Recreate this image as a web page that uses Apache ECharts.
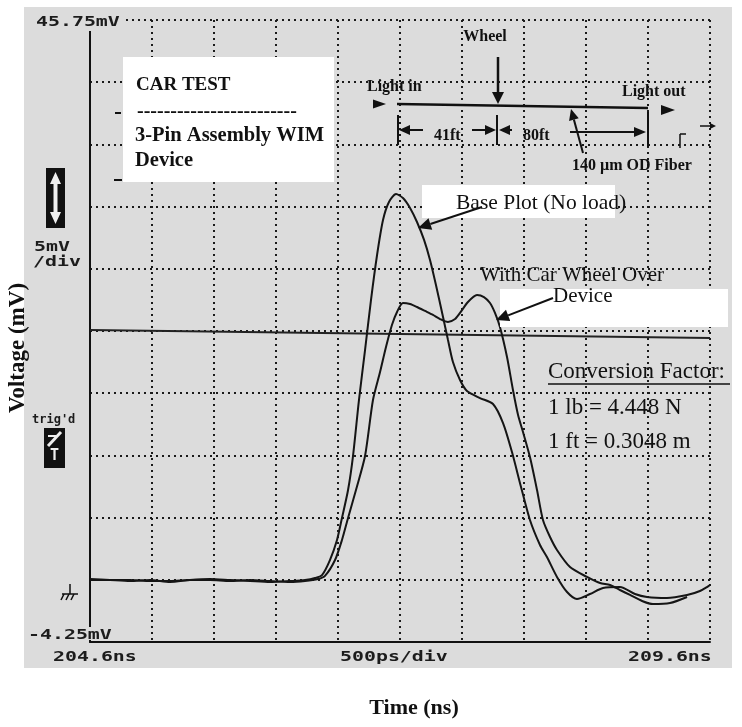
<!DOCTYPE html>
<html>
<head>
<meta charset="utf-8">
<title>Car test</title>
<script src="https://cdn.jsdelivr.net/npm/echarts@6/dist/echarts.min.js"></script>
<style>
body{margin:0;background:#fff;}
#scope{width:742px;height:727px;}
</style>
</head>
<body>
<div id="scope"></div>
<script>
// time (ns) and voltage (mV)
var baseTime = [204.600,204.761,204.923,205.084,205.245,205.406,205.568,205.729,205.890,206.052,206.213,206.334,206.415,206.471,206.535,206.592,206.632,206.681,206.721,206.769,206.818,206.866,206.915,206.963,207.011,207.068,207.124,207.181,207.237,207.294,207.342,207.390,207.447,207.487,207.527,207.584,207.640,207.745,207.850,207.931,208.003,208.076,208.148,208.229,208.285,208.366,208.447,208.527,208.632,208.737,208.874,208.995,209.092,209.253,209.415,209.519,209.600];
var baseVolt = [0.81,0.73,0.65,0.73,0.57,0.73,0.81,0.73,0.65,0.57,0.65,0.73,0.89,1.13,2.34,3.95,5.72,7.97,10.70,15.20,19.22,23.24,26.86,29.67,31.12,31.76,31.44,30.64,29.51,28.07,26.46,24.45,21.88,20.03,18.26,16.81,15.93,15.36,14.88,13.35,11.02,8.21,5.56,3.55,2.58,0.98,-0.23,-0.79,-0.39,0.09,0.17,-0.39,-0.63,-0.71,-0.47,-0.15,0.33];
var wheelTime = [204.600,204.761,204.923,205.084,205.245,205.406,205.568,205.729,205.890,206.052,206.213,206.334,206.439,206.495,206.576,206.632,206.681,206.745,206.818,206.882,206.939,206.987,207.035,207.076,207.124,207.181,207.237,207.302,207.366,207.423,207.487,207.544,207.584,207.648,207.721,207.777,207.826,207.866,207.906,207.963,208.011,208.052,208.092,208.148,208.205,208.253,208.310,208.366,208.471,208.608,208.713,208.794,208.874,208.955,209.052,209.140,209.277,209.415];
var wheelVolt = [0.73,0.73,0.73,0.65,0.65,0.73,0.73,0.65,0.73,0.65,0.57,0.65,0.81,1.06,2.34,3.95,5.72,7.97,10.70,15.20,17.45,19.46,21.23,22.28,23.00,22.92,22.68,22.36,22.04,21.71,21.47,21.71,22.20,23.08,23.64,23.48,23.00,22.20,21.07,18.66,16.01,14.00,12.63,10.62,7.97,5.56,4.19,3.15,1.78,0.98,0.49,0.33,-0.07,-0.47,-0.95,-1.20,-1.12,-0.63];
var cursorTime = [204.6, 209.6];
var cursorVolt = [20.83, 20.19];
var scopeLabels = ['45.75mV', '-4.25mV', '204.6ns', '500ps/div', '209.6ns'];

window.onload = function() {
	var chart = echarts.init(document.getElementById('scope'));

	function pairs(t, v) {
		var out = [];
		for (var i = 0; i < t.length; i++) out.push([t[i], v[i]]);
		return out;
	}

	// line + filled head, head at (x2,y2)
	function arrowTo(x1, y1, x2, y2, len, half, w) {
		var a = Math.atan2(y2 - y1, x2 - x1);
		var bx = x2 - len * Math.cos(a), by = y2 - len * Math.sin(a);
		var px = -Math.sin(a) * half, py = Math.cos(a) * half;
		return [
			{type: 'line', z: 100, shape: {x1: x1, y1: y1, x2: bx, y2: by}, style: {stroke: '#111', lineWidth: w || 2}},
			{type: 'polygon', z: 100, shape: {points: [[x2, y2], [bx + px, by + py], [bx - px, by - py]]}, style: {fill: '#111'}}
		];
	}
	function txt(s, x, y, font, align, color) {
		return {type: 'text', z: 101, style: {text: s, x: x, y: y, font: font, fill: color || '#111', align: align || 'left', verticalAlign: 'middle'}};
	}
	// wide scope-screen font
	function scopeTxt(s, x, y) {
		return {type: 'text', z: 101, x: x, y: y, scaleX: 1.42, style: {text: s, x: 0, y: 0, font: 'bold 14px "DejaVu Sans Mono"', fill: '#1c1c1c', verticalAlign: 'middle'}};
	}
	function seg(x1, y1, x2, y2, w, c) {
		return {type: 'line', z: 100, shape: {x1: x1, y1: y1, x2: x2, y2: y2}, style: {stroke: c || '#111', lineWidth: w || 2}};
	}

	var serifB = 'bold 16px "Liberation Serif"';
	var g = [
		{type: 'rect', z: -1, shape: {x: 24, y: 7, width: 708, height: 661}, style: {fill: '#dcdcdc'}},
		// masks behind the corner readouts
		{type: 'rect', z: 50, shape: {x: 86, y: 11, width: 36, height: 20}, style: {fill: '#dcdcdc'}},
		{type: 'rect', z: 50, shape: {x: 86, y: 627, width: 30, height: 13}, style: {fill: '#dcdcdc'}},
		scopeTxt(scopeLabels[0], 36, 22),
		scopeTxt(scopeLabels[1], 28, 635),
		scopeTxt(scopeLabels[2], 53, 657),
		scopeTxt(scopeLabels[3], 340, 657),
		scopeTxt(scopeLabels[4], 628, 657),
		scopeTxt('5mV', 34, 247),
		scopeTxt('/div', 33, 262),
		{type: 'text', z: 101, style: {text: "trig'd", x: 32, y: 420, font: 'bold 12px "DejaVu Sans Mono"', fill: '#1c1c1c', verticalAlign: 'middle'}},
		// volts/div icon
		{type: 'rect', z: 100, shape: {x: 46, y: 168, width: 19, height: 60}, style: {fill: '#111'}},
		{type: 'polygon', z: 101, shape: {points: [[55.5, 172], [50, 184], [53.5, 184], [53.5, 212], [50, 212], [55.5, 224], [61, 212], [57.5, 212], [57.5, 184], [61, 184]]}, style: {fill: '#eee'}},
		// trigger icon
		{type: 'rect', z: 100, shape: {x: 44, y: 428, width: 21, height: 40}, style: {fill: '#111'}},
		seg(48, 446, 61, 432, 3, '#eee'),
		seg(48, 436, 56, 436, 2, '#eee'),
		{type: 'text', z: 101, style: {text: 'T', x: 54.5, y: 456, font: 'bold 15px "DejaVu Sans Mono"', fill: '#eee', align: 'center', verticalAlign: 'middle'}},
		// ground mark
		seg(70, 584, 70, 594, 1.5), seg(62, 594, 78, 594, 1.5),
		seg(64, 594, 61, 600, 1.5), seg(69, 594, 66, 600, 1.5), seg(74, 594, 71, 600, 1.5),
		seg(115, 113, 121, 113, 2), seg(114, 180, 122, 180, 2),

		// CAR TEST box
		{type: 'rect', z: 99, shape: {x: 123, y: 57, width: 211, height: 125}, style: {fill: '#fff'}},
		txt('CAR TEST', 136, 85, 'bold 19px "Liberation Serif"'),
		txt('------------------------', 137, 112, 'bold 20px "Liberation Serif"'),
		txt('3-Pin Assembly WIM', 135, 136, 'bold 20.5px "Liberation Serif"'),
		txt('Device', 135, 161, 'bold 20.5px "Liberation Serif"'),

		// fiber sketch
		txt('Wheel', 485, 37, serifB, 'center'),
		txt('Light in', 367, 87, serifB),
		txt('Light out', 622, 92, serifB),
		txt('41ft', 434, 136, serifB),
		txt('80ft', 523, 136, serifB),
		txt('140 \u00b5m OD Fiber', 572, 166, serifB),
		seg(397, 104, 648, 108, 2.5),
		{type: 'polygon', z: 100, shape: {points: [[386, 104], [373, 99.5], [373, 108.5]]}, style: {fill: '#111'}},
		{type: 'polygon', z: 100, shape: {points: [[675, 110], [661, 105], [661, 115]]}, style: {fill: '#111'}},
		seg(398, 115, 398, 145, 2), seg(497, 115, 497, 145, 2), seg(648, 112, 648, 147, 2),
		seg(680, 134, 680, 148, 1.5), seg(680, 134, 686, 134, 1.5),

		// callout boxes
		{type: 'rect', z: 99, shape: {x: 422, y: 185, width: 193, height: 33}, style: {fill: '#fff'}},
		txt('Base Plot (No load)', 456, 203, '21.5px "Liberation Serif"'),
		{type: 'rect', z: 99, shape: {x: 500, y: 289, width: 228, height: 38}, style: {fill: '#fff'}},
		txt('With Car Wheel Over', 480, 275, '21px "Liberation Serif"'),
		txt('Device', 553, 296, '21px "Liberation Serif"'),
		txt('Conversion Factor:', 548, 372, '23px "Liberation Serif"'),
		seg(548, 384, 730, 384, 1.5),
		txt('1 lb = 4.448 N', 548, 408, '23px "Liberation Serif"'),
		txt('1 ft = 0.3048 m', 548, 442, '23px "Liberation Serif"'),

		// axis titles
		{type: 'text', z: 101, x: 18, y: 348, rotation: Math.PI / 2, style: {text: 'Voltage (mV)', x: 0, y: 0, font: 'bold 23px "Liberation Serif"', fill: '#111', align: 'center', verticalAlign: 'middle'}},
		txt('Time (ns)', 414, 708, 'bold 22px "Liberation Serif"', 'center')
	];
	g = g.concat(arrowTo(498, 57, 498, 104, 12, 6, 2.5));
	g = g.concat(arrowTo(423, 130, 399, 130, 11, 5, 2));
	g = g.concat(arrowTo(472, 130, 496, 130, 11, 5, 2));
	g = g.concat(arrowTo(512, 130, 499, 130, 11, 5, 2));
	g = g.concat(arrowTo(570, 132, 646, 132, 12, 5, 2));
	g = g.concat(arrowTo(583, 153, 571, 109, 11, 5, 2));
	g = g.concat(arrowTo(700, 126, 716, 126, 6, 3, 1.5));
	g = g.concat(arrowTo(482, 207, 418, 228, 13, 6, 2));
	g = g.concat(arrowTo(553, 298, 496, 320, 13, 6, 2));

	var dotted = {show: true, lineStyle: {color: '#1a1a1a', width: 2, type: [2, 4]}};
	var option = {
		animation: false,
		backgroundColor: '#fff',
		grid: {left: 90, top: 20, width: 620, height: 622},
		xAxis: [
			{type: 'value', min: 204.6, max: 209.6, show: false},
			// graticule, 10 divisions
			{type: 'value', min: 0, max: 10, interval: 1, position: 'bottom',
				axisLine: {show: true, onZero: false, lineStyle: {color: '#111', width: 2}},
				axisTick: {show: false}, axisLabel: {show: false}, splitLine: dotted}
		],
		yAxis: [
			{type: 'value', min: -4.25, max: 45.75, show: false},
			{type: 'value', min: 0, max: 10, interval: 1, position: 'left',
				axisLine: {show: true, onZero: false, lineStyle: {color: '#111', width: 2}},
				axisTick: {show: false}, axisLabel: {show: false}, splitLine: dotted}
		],
		series: [
			{name: 'cursor', type: 'line', data: pairs(cursorTime, cursorVolt), symbol: 'none',
				lineStyle: {color: '#222', width: 2}},
			{name: 'Base Plot (No load)', type: 'line', data: pairs(baseTime, baseVolt), symbol: 'none', smooth: 0.25,
				lineStyle: {color: '#151515', width: 2}},
			{name: 'With Car Wheel Over Device', type: 'line', data: pairs(wheelTime, wheelVolt), symbol: 'none', smooth: 0.25,
				lineStyle: {color: '#151515', width: 2}}
		],
		graphic: g
	};
	chart.setOption(option);
}
</script>
</body>
</html>
